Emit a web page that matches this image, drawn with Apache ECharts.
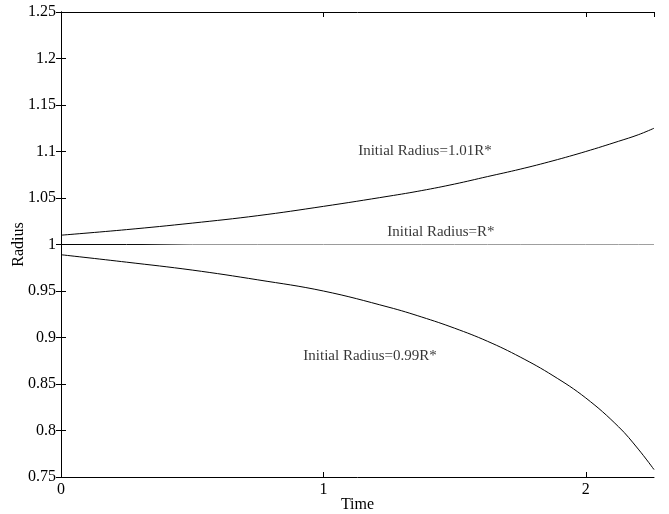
<!DOCTYPE html>
<html>
<head>
<meta charset="utf-8">
<script src="https://cdn.jsdelivr.net/npm/echarts@6/dist/echarts.min.js"></script>
<style>
  html, body { margin: 0; padding: 0; background: #fff; }
  #chart { width: 669px; height: 514px; }
</style>
</head>
<body>
<div id="chart"></div>
<script>
// Radius evolution for three initial radii
const times = [0, 0.25, 0.5, 0.75, 1.0, 1.25, 1.375, 1.5, 1.625, 1.75, 1.875, 2.0, 2.125, 2.2, 2.26];
const radiusAbove = [1.010, 1.016, 1.023, 1.031, 1.041, 1.052, 1.058, 1.065, 1.073, 1.081, 1.090, 1.100, 1.111, 1.118, 1.125];
const radiusEqual = [1, 1, 1, 1, 1, 1, 1, 1, 1, 1, 1, 1, 1, 1, 1];
const radiusBelow = [0.989, 0.981, 0.9725, 0.962, 0.950, 0.9325, 0.922, 0.910, 0.896, 0.879, 0.859, 0.835, 0.804, 0.780, 0.758];

// Curve annotations: [time, radius, text]
const annotations = [
  [1.387, 1.101, 'Initial Radius=1.01R*'],
  [1.448, 1.0134, 'Initial Radius=R*'],
  [1.178, 0.880, 'Initial Radius=0.99R*']
];

const FONT = '"Liberation Serif", "DejaVu Serif", serif';

const pair = (ys) => times.map((t, i) => [t, ys[i]]);

const chart = echarts.init(document.getElementById('chart'));

const baseAxisLine = { show: true, lineStyle: { color: '#000', width: 1 } };
const tick = { show: true, inside: true, length: 5, lineStyle: { color: '#000', width: 1 } };

chart.setOption({
  animation: false,
  backgroundColor: '#fff',
  grid: { left: 61, right: 15, top: 12, bottom: 37, outerBoundsMode: 'none', containLabel: false },
  xAxis: [
    {
      type: 'value', min: 0, max: 2.26, interval: 1,
      name: 'Time', nameLocation: 'middle', nameGap: 20, nameMoveOverlap: false,
      nameTextStyle: { fontFamily: FONT, fontSize: 16, color: '#000' },
      axisLine: baseAxisLine, axisTick: tick, splitLine: { show: false },
      axisLabel: {
        fontFamily: FONT, fontSize: 16, color: '#000', margin: 5,
        showMaxLabel: false,
        formatter: (v) => (Math.abs(v - Math.round(v)) < 1e-9 ? String(Math.round(v)) : '')
      }
    },
    {
      type: 'value', min: 0, max: 2.26, interval: 1, position: 'top',
      axisLine: baseAxisLine, axisTick: tick, axisLabel: { show: false }, splitLine: { show: false }
    }
  ],
  yAxis: [
    {
      type: 'value', min: 0.75, max: 1.25, interval: 0.05,
      name: 'Radius', nameLocation: 'middle', nameGap: 34, nameRotate: 90, nameMoveOverlap: false,
      nameTextStyle: { fontFamily: FONT, fontSize: 16, color: '#000' },
      axisLine: baseAxisLine, axisTick: tick, splitLine: { show: false },
      axisLabel: {
        fontFamily: FONT, fontSize: 16, color: '#000', margin: 5,
        formatter: (v) => String(+v.toFixed(2))
      }
    },
    {
      type: 'value', min: 0.75, max: 1.25, interval: 0.05, position: 'right',
      axisLine: baseAxisLine, axisTick: tick, axisLabel: { show: false }, splitLine: { show: false }
    }
  ],
  series: [
    {
      type: 'line', data: pair(radiusAbove), smooth: 0.4, showSymbol: false,
      lineStyle: { color: '#000', width: 1 }
    },
    {
      type: 'line', data: pair(radiusEqual), showSymbol: false,
      lineStyle: {
        width: 1,
        color: {
          type: 'linear', x: 0, y: 0, x2: 1, y2: 0,
          colorStops: [
            { offset: 0, color: '#000' },
            { offset: 0.14, color: '#111' },
            { offset: 0.22, color: '#999' },
            { offset: 1, color: '#a0a0a0' }
          ]
        }
      }
    },
    {
      type: 'line', data: pair(radiusBelow), smooth: 0.4, showSymbol: false,
      lineStyle: { color: '#000', width: 1 }
    },
    {
      type: 'scatter', symbolSize: 0, silent: true,
      data: annotations.map((a) => ({ value: [a[0], a[1]], name: a[2] })),
      label: {
        show: true, position: 'inside', formatter: (p) => p.name,
        fontFamily: FONT, fontSize: 15, color: '#000'
      }
    }
  ]
});
</script>
</body>
</html>
